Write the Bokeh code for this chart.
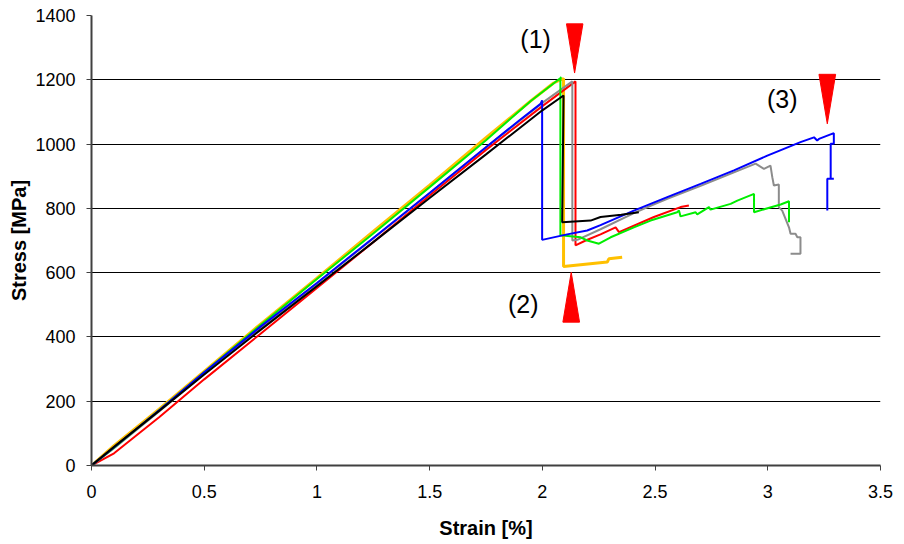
from bokeh.plotting import figure
from bokeh.models import FixedTicker, Range1d
from bokeh.core.properties import value
from bokeh.embed import file_html
from bokeh.resources import INLINE

# ---- data (strain %, stress MPa) ----
yellow_x = [0, 0.1, 0.3, 0.5, 0.75, 1.0, 1.25, 1.5, 1.75, 1.95, 2.05, 2.094, 2.094, 2.288, 2.295, 2.354]
yellow_y = [0, 62, 175, 293, 440, 583, 728, 872, 1020, 1135, 1190, 1204, 619, 633, 643, 648]

red_x = [0, 0.1, 0.3, 0.5, 0.75, 1.0, 1.25, 1.5, 1.75, 2.0, 2.147, 2.147, 2.192, 2.258, 2.325, 2.340, 2.495, 2.613, 2.650]
red_y = [0, 38, 150, 268, 410, 552, 695, 840, 982, 1118, 1195, 685, 700, 719, 741, 726, 773, 804, 809]

gray_x = [0, 0.1, 0.3, 0.5, 0.75, 1.0, 1.25, 1.5, 1.75, 2.0, 2.133, 2.133, 2.155, 2.258, 2.406, 2.480, 2.554,
          2.702, 2.850, 2.946, 2.983, 3.012, 3.020, 3.027, 3.049, 3.049, 3.064, 3.094, 3.101, 3.123, 3.131,
          3.145, 3.145, 3.101]
gray_y = [0, 54, 168, 285, 428, 566, 706, 848, 990, 1128, 1195, 700, 702, 735, 785, 808, 830,
          870, 912, 939, 923, 933, 897, 871, 874, 804, 793, 741, 721, 721, 710,
          710, 659, 659]

green_x = [0, 0.1, 0.3, 0.5, 0.75, 1.0, 1.25, 1.5, 1.75, 1.95, 2.085, 2.08, 2.08, 2.170, 2.199, 2.251, 2.303,
           2.406, 2.480, 2.598, 2.606, 2.613, 2.680, 2.687, 2.739, 2.746, 2.835, 2.865, 2.939, 2.939,
           3.057, 3.094, 3.094]
green_y = [0, 55, 172, 290, 437, 580, 722, 866, 1012, 1135, 1208, 1205, 716, 710, 700, 690, 710,
           741, 762, 788, 793, 775, 788, 781, 804, 796, 814, 824, 845, 788,
           812, 822, 757]

blue_x = [0, 0.1, 0.3, 0.5, 0.75, 1.0, 1.25, 1.5, 1.75, 1.9, 1.992, 1.999, 1.999, 2.110, 2.199, 2.258, 2.406,
          2.554, 2.702, 2.850, 2.998, 3.145, 3.205, 3.219, 3.227, 3.293, 3.293, 3.279, 3.279, 3.293,
          3.264, 3.264]
blue_y = [0, 57, 172, 290, 432, 568, 708, 848, 990, 1075, 1125, 1136, 702, 719, 731, 748, 793,
          835, 876, 918, 964, 1006, 1021, 1011, 1016, 1034, 1001, 1001, 892, 892,
          892, 793]

black_x = [0, 0.1, 0.3, 0.5, 0.75, 1.0, 1.25, 1.5, 1.75, 2.0, 2.094, 2.088, 2.214, 2.258, 2.35, 2.428]
black_y = [0, 58, 170, 283, 422, 558, 695, 832, 968, 1105, 1151, 757, 762, 773, 780, 788]

x_ticks = [0, 0.5, 1, 1.5, 2, 2.5, 3, 3.5]
x_tick_labels = ["0", "0.5", "1", "1.5", "2", "2.5", "3", "3.5"]
y_ticks = [0, 200, 400, 600, 800, 1000, 1200, 1400]

# annotations: markers (triangles) and labels
tri_xs = [[2.107, 2.180, 2.143], [2.091, 2.165, 2.128], [3.227, 3.301, 3.264]]
tri_ys = [[1374, 1374, 1221], [446, 446, 601], [1217, 1217, 1063]]
lab_x = [1.970, 1.915, 3.064]
lab_y = [1328, 504, 1141]
lab_t = ["(1)", "(2)", "(3)"]

FONT = "Liberation Sans"

p = figure(width=896, height=541, output_backend="svg", toolbar_location=None,
           x_range=Range1d(0, 3.5), y_range=Range1d(0, 1400),
           min_border_left=91, min_border_right=16, min_border_top=15, min_border_bottom=76)
p.outline_line_color = None
p.background_fill_color = "white"
p.border_fill_color = "white"

p.xgrid.visible = False
p.ygrid.ticker = FixedTicker(ticks=y_ticks)
p.ygrid.grid_line_color = "black"
p.ygrid.grid_line_width = 1

for ax, ticks in ((p.xaxis, x_ticks), (p.yaxis, y_ticks)):
    ax.ticker = FixedTicker(ticks=ticks)
    ax.axis_line_color = "#404040"
    ax.axis_line_width = 2
    ax.major_tick_line_color = "#404040"
    ax.major_tick_out = 5
    ax.major_tick_in = 0
    ax.minor_tick_line_color = None
    ax.major_label_text_font = FONT
    ax.major_label_text_font_size = "18px"
    ax.major_label_text_color = "black"
    ax.axis_label_text_font = FONT
    ax.axis_label_text_font_style = "bold"
    ax.axis_label_text_font_size = "20px"
    ax.axis_label_text_color = "black"

p.xaxis.major_label_overrides = {t: l for t, l in zip(x_ticks, x_tick_labels)}
p.xaxis.axis_label = "Strain [%]"
p.yaxis.axis_label = "Stress [MPa]"
p.xaxis.major_label_standoff = 14
p.yaxis.major_label_standoff = 11
p.xaxis.axis_label_standoff = 16
p.yaxis.axis_label_standoff = 2

p.line(yellow_x, yellow_y, line_color="#FFC000", line_width=3)
p.line(red_x, red_y, line_color="#FF0000", line_width=2)
p.line(gray_x, gray_y, line_color="#8C8C8C", line_width=2)
p.line(green_x, green_y, line_color="#00EE00", line_width=2)
p.line(blue_x, blue_y, line_color="#0000FF", line_width=2)
p.line(black_x, black_y, line_color="#000000", line_width=2)

p.patches(tri_xs, tri_ys, fill_color="#FF0000", line_color="#FF0000", line_width=1)
p.text(lab_x, lab_y, text=lab_t, text_font=value(FONT), text_font_size="25px",
       text_align="center", text_baseline="middle", text_color="black")

open("out.html", "w").write(file_html(p, INLINE))
